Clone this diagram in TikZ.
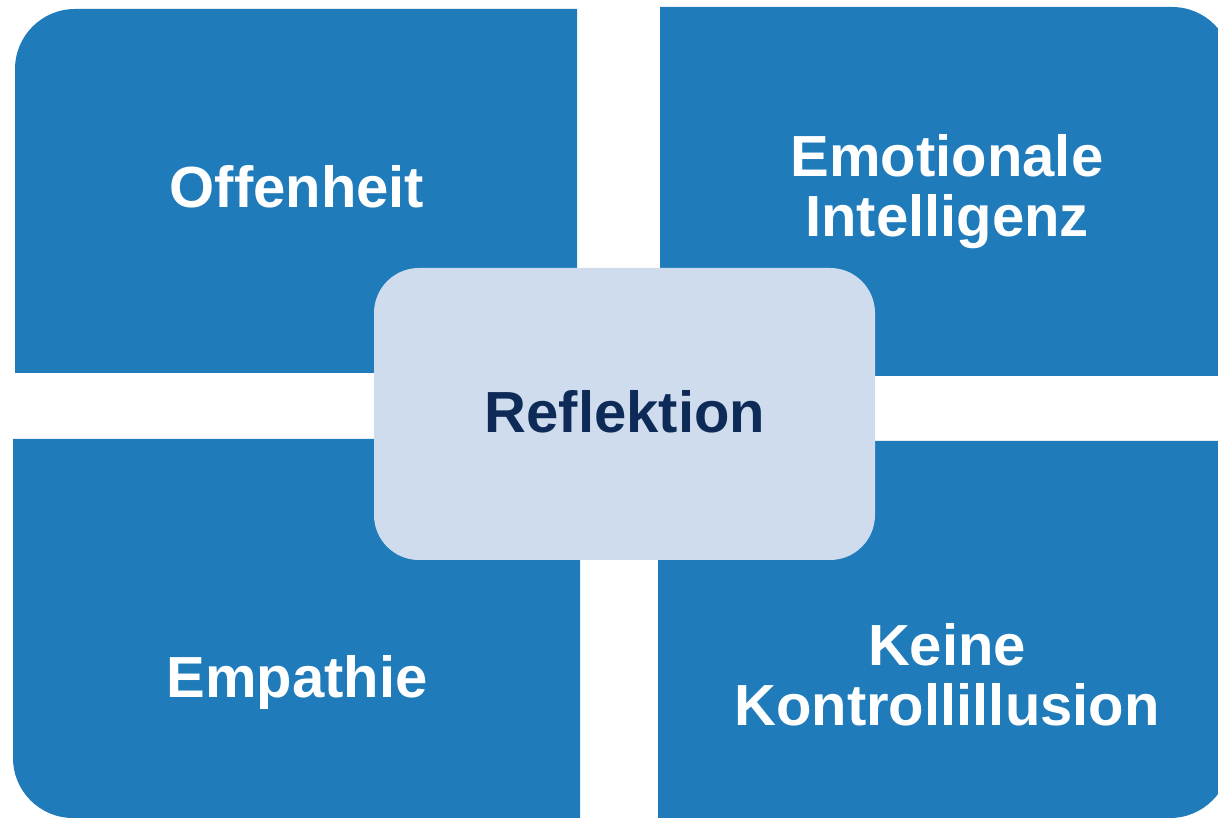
\documentclass[tikz,border=0pt]{standalone}
\usepackage{fontspec}
\setmainfont{Liberation Sans}
\definecolor{quadblue}{RGB}{31,123,186}
\definecolor{centerfill}{RGB}{207,220,238}
\definecolor{navytext}{RGB}{14,43,88}
\begin{document}
\begin{tikzpicture}[x=1pt,y=1pt,
  quad/.style={fill=quadblue},
  qlabel/.style={text=white,font=\bfseries\fontsize{58}{60}\selectfont,align=center,inner sep=0pt,anchor=base},
  clabel/.style={text=navytext,font=\bfseries\fontsize{58}{60}\selectfont,inner sep=0pt,anchor=base}]
\useasboundingbox (0,0) rectangle (1218,817);
% top-left
\fill[quad] (15,444) -- (15,748) arc[start angle=180,end angle=90,radius=60] -- (577,808) -- (577,444) -- cycle;
% top-right
\fill[quad] (660,441) -- (660,810) -- (1172,810) arc[start angle=90,end angle=0,radius=60] -- (1232,441) -- cycle;
% bottom-left
\fill[quad] (13,378) -- (580,378) -- (580,-1) -- (73,-1) arc[start angle=270,end angle=180,radius=60] -- (13,378) -- cycle;
% bottom-right
\fill[quad] (658,376) -- (1230,376) -- (1230,59) arc[start angle=0,end angle=-90,radius=60] -- (658,-1) -- cycle;
% center
\fill[centerfill,rounded corners=45pt] (374,257) rectangle (875,549);
\node[qlabel] (offen) at (297,609) {Offenheit};
\node[qlabel] (emo) at (947,580) {Emotionale\\Intelligenz};
\node[qlabel] (emp) at (297,120) {Empathie};
\node[qlabel] (keine) at (947,92) {Keine\\Kontrollillusion};
\node[clabel] (refl) at (625,384) {Reflektion};
\end{tikzpicture}
\end{document}
